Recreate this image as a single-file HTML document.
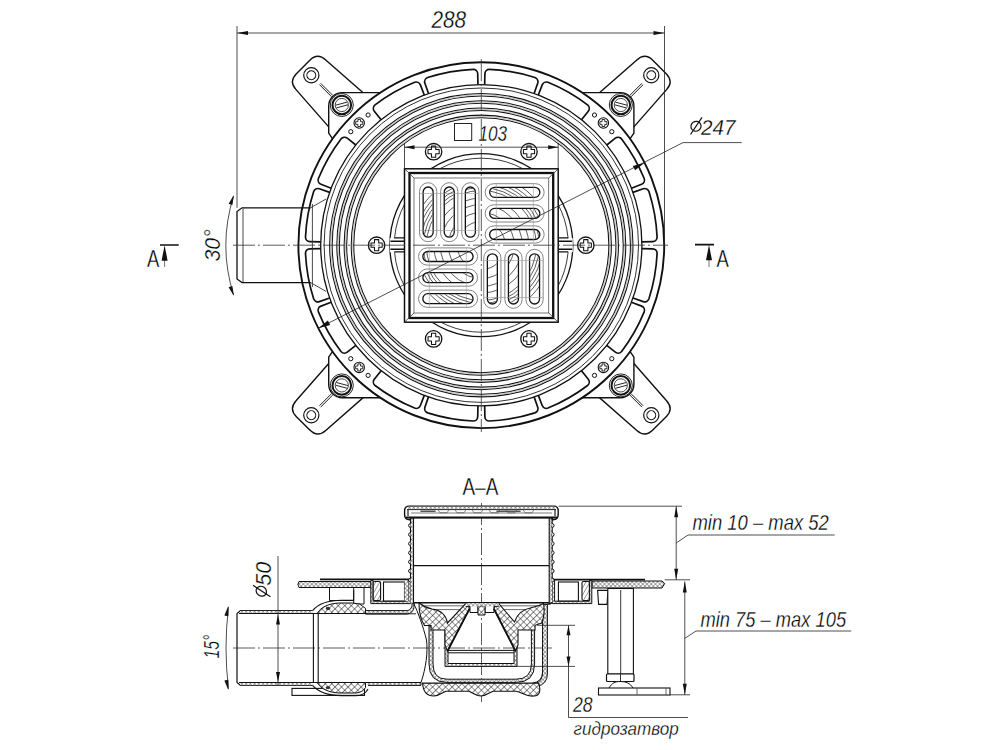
<!DOCTYPE html>
<html><head><meta charset="utf-8"><style>
html,body{margin:0;padding:0;background:#fff;width:1000px;height:750px;overflow:hidden}
svg{display:block}
</style></head><body>
<svg width="1000" height="750" viewBox="0 0 1000 750">
<rect width="1000" height="750" fill="#fff"/>
<defs>
<pattern id="xh" patternUnits="userSpaceOnUse" width="4.6" height="4.6" patternTransform="rotate(45)">
<rect width="4.6" height="4.6" fill="#fff"/>
<path d="M0 0H4.6M0 0V4.6" stroke="#222" stroke-width="1.1"/>
</pattern>
<pattern id="dh" patternUnits="userSpaceOnUse" width="3.5" height="3.5" patternTransform="rotate(-60)">
<rect width="3.5" height="3.5" fill="#fff"/>
<path d="M0 0H3.5" stroke="#333" stroke-width="0.9"/>
</pattern>
<pattern id="sh" patternUnits="userSpaceOnUse" width="3" height="3" patternTransform="rotate(45)">
<rect width="3" height="3" fill="#fff"/>
<path d="M0 0H3M0 0V3" stroke="#444" stroke-width="0.9"/>
</pattern>
<marker id="ar" viewBox="0 0 12 4" refX="12" refY="2" markerWidth="12" markerHeight="4" markerUnits="userSpaceOnUse" orient="auto-start-reverse">
<path d="M0 0L12 2L0 4z" fill="#111"/>
</marker>
</defs>
<path d="M300 207.8H242L237 211.5V279L242 282.6H300" fill="#fff" stroke="#111" stroke-width="1.3"/>
<path d="M243 208.5V282" stroke="#333" stroke-width="0.9"/>
<g transform="translate(481.3 245.2) scale(1 1)">
<g transform="rotate(-135)">
<path d="M172 -25.5L241 -21Q252 -20.4 252 -9.5V9.5Q252 20.4 241 21L172 25.5Z" fill="#fff" stroke="#111" stroke-width="1.4" stroke-linejoin="round"/>
<circle cx="240.4" cy="0" r="7.6" fill="none" stroke="#111" stroke-width="1.2"/>
<circle cx="240.4" cy="0" r="4.4" fill="none" stroke="#111" stroke-width="1.1"/>
<path d="M211 -0.9H228M211 0.9H228" stroke="#111" stroke-width="0.9"/>
</g>
<path d="M-98 -152.6H-139A13.5 13.5 0 0 0 -152.6 -139V-112L-148.5 -106L-104 -150Z" fill="#fff" stroke="#111" stroke-width="1.4" stroke-linejoin="round"/>
</g>
<g transform="translate(481.3 245.2) scale(-1 1)">
<g transform="rotate(-135)">
<path d="M172 -25.5L241 -21Q252 -20.4 252 -9.5V9.5Q252 20.4 241 21L172 25.5Z" fill="#fff" stroke="#111" stroke-width="1.4" stroke-linejoin="round"/>
<circle cx="240.4" cy="0" r="7.6" fill="none" stroke="#111" stroke-width="1.2"/>
<circle cx="240.4" cy="0" r="4.4" fill="none" stroke="#111" stroke-width="1.1"/>
<path d="M211 -0.9H228M211 0.9H228" stroke="#111" stroke-width="0.9"/>
</g>
<path d="M-98 -152.6H-139A13.5 13.5 0 0 0 -152.6 -139V-112L-148.5 -106L-104 -150Z" fill="#fff" stroke="#111" stroke-width="1.4" stroke-linejoin="round"/>
</g>
<g transform="translate(481.3 245.2) scale(1 -1)">
<g transform="rotate(-135)">
<path d="M172 -25.5L241 -21Q252 -20.4 252 -9.5V9.5Q252 20.4 241 21L172 25.5Z" fill="#fff" stroke="#111" stroke-width="1.4" stroke-linejoin="round"/>
<circle cx="240.4" cy="0" r="7.6" fill="none" stroke="#111" stroke-width="1.2"/>
<circle cx="240.4" cy="0" r="4.4" fill="none" stroke="#111" stroke-width="1.1"/>
<path d="M211 -0.9H228M211 0.9H228" stroke="#111" stroke-width="0.9"/>
</g>
<path d="M-98 -152.6H-139A13.5 13.5 0 0 0 -152.6 -139V-112L-148.5 -106L-104 -150Z" fill="#fff" stroke="#111" stroke-width="1.4" stroke-linejoin="round"/>
</g>
<g transform="translate(481.3 245.2) scale(-1 -1)">
<g transform="rotate(-135)">
<path d="M172 -25.5L241 -21Q252 -20.4 252 -9.5V9.5Q252 20.4 241 21L172 25.5Z" fill="#fff" stroke="#111" stroke-width="1.4" stroke-linejoin="round"/>
<circle cx="240.4" cy="0" r="7.6" fill="none" stroke="#111" stroke-width="1.2"/>
<circle cx="240.4" cy="0" r="4.4" fill="none" stroke="#111" stroke-width="1.1"/>
<path d="M211 -0.9H228M211 0.9H228" stroke="#111" stroke-width="0.9"/>
</g>
<path d="M-98 -152.6H-139A13.5 13.5 0 0 0 -152.6 -139V-112L-148.5 -106L-104 -150Z" fill="#fff" stroke="#111" stroke-width="1.4" stroke-linejoin="round"/>
</g>
<circle cx="481.3" cy="245.2" r="182.9" fill="#fff" stroke="#111" stroke-width="1.9"/>
<circle cx="341.80" cy="105.00" r="11.5" fill="none" stroke="#222" stroke-width="1.0"/>
<circle cx="341.80" cy="105.00" r="9.3" fill="#fff" stroke="#111" stroke-width="2.0"/>
<circle cx="341.80" cy="105.00" r="6.6" fill="none" stroke="#333" stroke-width="0.9"/>
<g transform="translate(341.80 105.00) rotate(-15)"><path d="M-6 -1.4H6M-6 1.4H6" stroke="#222" stroke-width="0.9"/></g>
<circle cx="368.10" cy="115.00" r="2.1" fill="none" stroke="#111" stroke-width="1"/>
<circle cx="350.80" cy="131.70" r="2.1" fill="none" stroke="#111" stroke-width="1"/>
<circle cx="359.20" cy="123.00" r="5.20" fill="#fff" stroke="#111" stroke-width="1.1"/>
<path d="M357.85 119.46H360.55V121.65H362.74V124.35H360.55V126.54H357.85V124.35H355.66V121.65H357.85Z" fill="none" stroke="#111" stroke-width="0.88" stroke-linejoin="round"/>
<circle cx="620.80" cy="105.00" r="11.5" fill="none" stroke="#222" stroke-width="1.0"/>
<circle cx="620.80" cy="105.00" r="9.3" fill="#fff" stroke="#111" stroke-width="2.0"/>
<circle cx="620.80" cy="105.00" r="6.6" fill="none" stroke="#333" stroke-width="0.9"/>
<g transform="translate(620.80 105.00) rotate(15)"><path d="M-6 -1.4H6M-6 1.4H6" stroke="#222" stroke-width="0.9"/></g>
<circle cx="594.50" cy="115.00" r="2.1" fill="none" stroke="#111" stroke-width="1"/>
<circle cx="611.80" cy="131.70" r="2.1" fill="none" stroke="#111" stroke-width="1"/>
<circle cx="603.40" cy="123.00" r="5.20" fill="#fff" stroke="#111" stroke-width="1.1"/>
<path d="M602.05 119.46H604.75V121.65H606.94V124.35H604.75V126.54H602.05V124.35H599.86V121.65H602.05Z" fill="none" stroke="#111" stroke-width="0.88" stroke-linejoin="round"/>
<circle cx="341.80" cy="385.40" r="11.5" fill="none" stroke="#222" stroke-width="1.0"/>
<circle cx="341.80" cy="385.40" r="9.3" fill="#fff" stroke="#111" stroke-width="2.0"/>
<circle cx="341.80" cy="385.40" r="6.6" fill="none" stroke="#333" stroke-width="0.9"/>
<g transform="translate(341.80 385.40) rotate(15)"><path d="M-6 -1.4H6M-6 1.4H6" stroke="#222" stroke-width="0.9"/></g>
<circle cx="368.10" cy="375.40" r="2.1" fill="none" stroke="#111" stroke-width="1"/>
<circle cx="350.80" cy="358.70" r="2.1" fill="none" stroke="#111" stroke-width="1"/>
<circle cx="359.20" cy="367.40" r="5.20" fill="#fff" stroke="#111" stroke-width="1.1"/>
<path d="M357.85 363.86H360.55V366.05H362.74V368.75H360.55V370.94H357.85V368.75H355.66V366.05H357.85Z" fill="none" stroke="#111" stroke-width="0.88" stroke-linejoin="round"/>
<circle cx="620.80" cy="385.40" r="11.5" fill="none" stroke="#222" stroke-width="1.0"/>
<circle cx="620.80" cy="385.40" r="9.3" fill="#fff" stroke="#111" stroke-width="2.0"/>
<circle cx="620.80" cy="385.40" r="6.6" fill="none" stroke="#333" stroke-width="0.9"/>
<g transform="translate(620.80 385.40) rotate(-15)"><path d="M-6 -1.4H6M-6 1.4H6" stroke="#222" stroke-width="0.9"/></g>
<circle cx="594.50" cy="375.40" r="2.1" fill="none" stroke="#111" stroke-width="1"/>
<circle cx="611.80" cy="358.70" r="2.1" fill="none" stroke="#111" stroke-width="1"/>
<circle cx="603.40" cy="367.40" r="5.20" fill="#fff" stroke="#111" stroke-width="1.1"/>
<path d="M602.05 363.86H604.75V366.05H606.94V368.75H604.75V370.94H602.05V368.75H599.86V366.05H602.05Z" fill="none" stroke="#111" stroke-width="0.88" stroke-linejoin="round"/>
<path d="M484.66 84.64L484.89 73.74A4.5 4.5 0 0 1 489.48 69.39A176.0 176.0 0 0 1 534.91 77.56A4.5 4.5 0 0 1 537.70 83.24L534.12 93.53" fill="#fff" stroke="#111" stroke-width="1.7" stroke-linejoin="round"/>
<path d="M534.12 396.87L537.70 407.16A4.5 4.5 0 0 1 534.91 412.84A176.0 176.0 0 0 1 489.48 421.01A4.5 4.5 0 0 1 484.89 416.66L484.66 405.76" fill="#fff" stroke="#111" stroke-width="1.7" stroke-linejoin="round"/>
<path d="M477.94 405.76L477.71 416.66A4.5 4.5 0 0 1 473.12 421.01A176.0 176.0 0 0 1 427.69 412.84A4.5 4.5 0 0 1 424.90 407.16L428.48 396.87" fill="#fff" stroke="#111" stroke-width="1.7" stroke-linejoin="round"/>
<path d="M428.48 93.53L424.90 83.24A4.5 4.5 0 0 1 427.69 77.56A176.0 176.0 0 0 1 473.12 69.39A4.5 4.5 0 0 1 477.71 73.74L477.94 84.64" fill="#fff" stroke="#111" stroke-width="1.7" stroke-linejoin="round"/>
<path d="M538.33 95.07L542.20 84.88A4.5 4.5 0 0 1 547.98 82.32A176.0 176.0 0 0 1 587.55 104.89A4.5 4.5 0 0 1 588.30 111.17L581.50 119.69" fill="#fff" stroke="#111" stroke-width="1.7" stroke-linejoin="round"/>
<path d="M581.50 370.71L588.30 379.23A4.5 4.5 0 0 1 587.55 385.51A176.0 176.0 0 0 1 547.98 408.08A4.5 4.5 0 0 1 542.20 405.52L538.33 395.33" fill="#fff" stroke="#111" stroke-width="1.7" stroke-linejoin="round"/>
<path d="M424.27 395.33L420.40 405.52A4.5 4.5 0 0 1 414.62 408.08A176.0 176.0 0 0 1 375.05 385.51A4.5 4.5 0 0 1 374.30 379.23L381.10 370.71" fill="#fff" stroke="#111" stroke-width="1.7" stroke-linejoin="round"/>
<path d="M381.10 119.69L374.30 111.17A4.5 4.5 0 0 1 375.05 104.89A176.0 176.0 0 0 1 414.62 82.32A4.5 4.5 0 0 1 420.40 84.88L424.27 95.07" fill="#fff" stroke="#111" stroke-width="1.7" stroke-linejoin="round"/>
<path d="M606.81 145.00L615.33 138.20A4.5 4.5 0 0 1 621.61 138.95A176.0 176.0 0 0 1 644.18 178.52A4.5 4.5 0 0 1 641.62 184.30L631.43 188.17" fill="#fff" stroke="#111" stroke-width="1.7" stroke-linejoin="round"/>
<path d="M631.43 302.23L641.62 306.10A4.5 4.5 0 0 1 644.18 311.88A176.0 176.0 0 0 1 621.61 351.45A4.5 4.5 0 0 1 615.33 352.20L606.81 345.40" fill="#fff" stroke="#111" stroke-width="1.7" stroke-linejoin="round"/>
<path d="M355.79 345.40L347.27 352.20A4.5 4.5 0 0 1 340.99 351.45A176.0 176.0 0 0 1 318.42 311.88A4.5 4.5 0 0 1 320.98 306.10L331.17 302.23" fill="#fff" stroke="#111" stroke-width="1.7" stroke-linejoin="round"/>
<path d="M331.17 188.17L320.98 184.30A4.5 4.5 0 0 1 318.42 178.52A176.0 176.0 0 0 1 340.99 138.95A4.5 4.5 0 0 1 347.27 138.20L355.79 145.00" fill="#fff" stroke="#111" stroke-width="1.7" stroke-linejoin="round"/>
<path d="M632.97 192.38L643.26 188.80A4.5 4.5 0 0 1 648.94 191.59A176.0 176.0 0 0 1 657.11 237.02A4.5 4.5 0 0 1 652.76 241.61L641.86 241.84" fill="#fff" stroke="#111" stroke-width="1.7" stroke-linejoin="round"/>
<path d="M641.86 248.56L652.76 248.79A4.5 4.5 0 0 1 657.11 253.38A176.0 176.0 0 0 1 648.94 298.81A4.5 4.5 0 0 1 643.26 301.60L632.97 298.02" fill="#fff" stroke="#111" stroke-width="1.7" stroke-linejoin="round"/>
<path d="M329.63 298.02L319.34 301.60A4.5 4.5 0 0 1 313.66 298.81A176.0 176.0 0 0 1 305.49 253.38A4.5 4.5 0 0 1 309.84 248.79L320.74 248.56" fill="#fff" stroke="#111" stroke-width="1.7" stroke-linejoin="round"/>
<path d="M320.74 241.84L309.84 241.61A4.5 4.5 0 0 1 305.49 237.02A176.0 176.0 0 0 1 313.66 191.59A4.5 4.5 0 0 1 319.34 188.80L329.63 192.38" fill="#fff" stroke="#111" stroke-width="1.7" stroke-linejoin="round"/>
<path d="M312.4 204V287" stroke="#333" stroke-width="0.9"/>
<path d="M310.6 207.8L326 199M310.6 282.6L326 291.4" stroke="#333" stroke-width="0.9"/>
<path d="M300 207.8H310.6M300 282.6H310.6" stroke="#111" stroke-width="1.2"/>
<circle cx="481.3" cy="245.2" r="160.6" fill="none" stroke="#111" stroke-width="1.3"/>
<circle cx="481.3" cy="245.2" r="157.2" fill="none" stroke="#333" stroke-width="1.0"/>
<circle cx="481.3" cy="245.2" r="150.4" fill="none" stroke="#111" stroke-width="3.6"/>
<circle cx="481.3" cy="245.2" r="150.4" fill="none" stroke="#fff" stroke-width="1.5"/>
<circle cx="481.3" cy="245.2" r="150.4" fill="none" stroke="#888" stroke-width="0.5"/>
<circle cx="481.3" cy="245.2" r="143.2" fill="none" stroke="#111" stroke-width="3.6"/>
<circle cx="481.3" cy="245.2" r="143.2" fill="none" stroke="#fff" stroke-width="1.5"/>
<circle cx="481.3" cy="245.2" r="143.2" fill="none" stroke="#888" stroke-width="0.5"/>
<circle cx="481.3" cy="245.2" r="135.9" fill="none" stroke="#111" stroke-width="3.6"/>
<circle cx="481.3" cy="245.2" r="135.9" fill="none" stroke="#fff" stroke-width="1.5"/>
<circle cx="481.3" cy="245.2" r="135.9" fill="none" stroke="#888" stroke-width="0.5"/>
<circle cx="481.3" cy="245.2" r="128.8" fill="none" stroke="#111" stroke-width="3.6"/>
<circle cx="481.3" cy="245.2" r="128.8" fill="none" stroke="#fff" stroke-width="1.5"/>
<circle cx="481.3" cy="245.2" r="128.8" fill="none" stroke="#888" stroke-width="0.5"/>
<circle cx="481.3" cy="245.2" r="91.5" fill="#fff" stroke="#111" stroke-width="1.3"/>
<circle cx="481.3" cy="245.2" r="87" fill="none" stroke="#222" stroke-width="0.9"/>
<rect x="558.30" y="238.2" width="14.50" height="14" fill="#fff" stroke="none"/>
<path d="M572.20 241.2H558.30M572.20 249.2H558.30" stroke="#111" stroke-width="1.4"/>
<path d="M568.30 237.79999999999998H558.30M568.30 251.79999999999998H558.30" stroke="#111" stroke-width="1.3"/>
<rect x="389.80" y="238.2" width="14.50" height="14" fill="#fff" stroke="none"/>
<path d="M390.40 241.2H404.30M390.40 249.2H404.30" stroke="#111" stroke-width="1.4"/>
<path d="M394.30 237.79999999999998H404.30M394.30 251.79999999999998H404.30" stroke="#111" stroke-width="1.3"/>
<path d="M433.3 167.20H529.3" stroke="#111" stroke-width="0" />
<path d="M433.3 323.20H529.3" stroke="#111" stroke-width="0" />
<circle cx="433.60" cy="151.70" r="8.20" fill="#fff" stroke="#111" stroke-width="1.3"/>
<path d="M431.47 146.12H435.73V149.57H439.18V153.83H435.73V157.28H431.47V153.83H428.02V149.57H431.47Z" fill="none" stroke="#111" stroke-width="1.04" stroke-linejoin="round"/>
<circle cx="529.00" cy="151.70" r="8.20" fill="#fff" stroke="#111" stroke-width="1.3"/>
<path d="M526.87 146.12H531.13V149.57H534.58V153.83H531.13V157.28H526.87V153.83H523.42V149.57H526.87Z" fill="none" stroke="#111" stroke-width="1.04" stroke-linejoin="round"/>
<circle cx="433.60" cy="338.90" r="8.20" fill="#fff" stroke="#111" stroke-width="1.3"/>
<path d="M431.47 333.32H435.73V336.77H439.18V341.03H435.73V344.48H431.47V341.03H428.02V336.77H431.47Z" fill="none" stroke="#111" stroke-width="1.04" stroke-linejoin="round"/>
<circle cx="529.00" cy="338.90" r="8.20" fill="#fff" stroke="#111" stroke-width="1.3"/>
<path d="M526.87 333.32H531.13V336.77H534.58V341.03H531.13V344.48H526.87V341.03H523.42V336.77H526.87Z" fill="none" stroke="#111" stroke-width="1.04" stroke-linejoin="round"/>
<circle cx="376.60" cy="245.20" r="8.20" fill="#fff" stroke="#111" stroke-width="1.3"/>
<path d="M374.47 239.62H378.73V243.07H382.18V247.33H378.73V250.78H374.47V247.33H371.02V243.07H374.47Z" fill="none" stroke="#111" stroke-width="1.04" stroke-linejoin="round"/>
<circle cx="585.80" cy="245.20" r="8.20" fill="#fff" stroke="#111" stroke-width="1.3"/>
<path d="M583.67 239.62H587.93V243.07H591.38V247.33H587.93V250.78H583.67V247.33H580.22V243.07H583.67Z" fill="none" stroke="#111" stroke-width="1.04" stroke-linejoin="round"/>
<rect x="404.5" y="168.8" width="153.7" height="153.4" fill="#fff" stroke="#111" stroke-width="1.5"/>
<rect x="409.5" y="173.0" width="143.7" height="145.0" fill="none" stroke="#111" stroke-width="2.3"/>
<rect x="414.0" y="178.0" width="134.7" height="135.0" fill="none" stroke="#555" stroke-width="0.8"/>
<line x1="404.50" y1="168.80" x2="414.00" y2="178.00" stroke="#333" stroke-width="0.8" />
<line x1="558.20" y1="168.80" x2="548.70" y2="178.00" stroke="#333" stroke-width="0.8" />
<line x1="404.50" y1="322.20" x2="414.00" y2="313.00" stroke="#333" stroke-width="0.8" />
<line x1="558.20" y1="322.20" x2="548.70" y2="313.00" stroke="#333" stroke-width="0.8" />
<g transform="translate(481.35 245.50)">
<g transform="rotate(0)">
<rect x="-61.8" y="-62.8" width="17.2" height="59" rx="8.6" fill="none" stroke="#666" stroke-width="0.8"/>
<rect x="-58.2" y="-58.5" width="10" height="50.2" rx="5" fill="#fff" stroke="#111" stroke-width="1.3"/>
<rect x="-40.7" y="-62.8" width="17.2" height="59" rx="8.6" fill="none" stroke="#666" stroke-width="0.8"/>
<rect x="-37.1" y="-58.5" width="10" height="50.2" rx="5" fill="#fff" stroke="#111" stroke-width="1.3"/>
<rect x="-19.6" y="-62.8" width="17.2" height="59" rx="8.6" fill="none" stroke="#666" stroke-width="0.8"/>
<rect x="-16.0" y="-58.5" width="10" height="50.2" rx="5" fill="#fff" stroke="#111" stroke-width="1.3"/>
<path d="M-62 -52H-3M-62 -15H-3" stroke="#999" stroke-width="0.6"/>
</g>
<g transform="rotate(90)">
<rect x="-61.8" y="-62.8" width="17.2" height="59" rx="8.6" fill="none" stroke="#666" stroke-width="0.8"/>
<rect x="-58.2" y="-58.5" width="10" height="50.2" rx="5" fill="#fff" stroke="#111" stroke-width="1.3"/>
<rect x="-40.7" y="-62.8" width="17.2" height="59" rx="8.6" fill="none" stroke="#666" stroke-width="0.8"/>
<rect x="-37.1" y="-58.5" width="10" height="50.2" rx="5" fill="#fff" stroke="#111" stroke-width="1.3"/>
<rect x="-19.6" y="-62.8" width="17.2" height="59" rx="8.6" fill="none" stroke="#666" stroke-width="0.8"/>
<rect x="-16.0" y="-58.5" width="10" height="50.2" rx="5" fill="#fff" stroke="#111" stroke-width="1.3"/>
<path d="M-62 -52H-3M-62 -15H-3" stroke="#999" stroke-width="0.6"/>
</g>
<g transform="rotate(180)">
<rect x="-61.8" y="-62.8" width="17.2" height="59" rx="8.6" fill="none" stroke="#666" stroke-width="0.8"/>
<rect x="-58.2" y="-58.5" width="10" height="50.2" rx="5" fill="#fff" stroke="#111" stroke-width="1.3"/>
<rect x="-40.7" y="-62.8" width="17.2" height="59" rx="8.6" fill="none" stroke="#666" stroke-width="0.8"/>
<rect x="-37.1" y="-58.5" width="10" height="50.2" rx="5" fill="#fff" stroke="#111" stroke-width="1.3"/>
<rect x="-19.6" y="-62.8" width="17.2" height="59" rx="8.6" fill="none" stroke="#666" stroke-width="0.8"/>
<rect x="-16.0" y="-58.5" width="10" height="50.2" rx="5" fill="#fff" stroke="#111" stroke-width="1.3"/>
<path d="M-62 -52H-3M-62 -15H-3" stroke="#999" stroke-width="0.6"/>
</g>
<g transform="rotate(270)">
<rect x="-61.8" y="-62.8" width="17.2" height="59" rx="8.6" fill="none" stroke="#666" stroke-width="0.8"/>
<rect x="-58.2" y="-58.5" width="10" height="50.2" rx="5" fill="#fff" stroke="#111" stroke-width="1.3"/>
<rect x="-40.7" y="-62.8" width="17.2" height="59" rx="8.6" fill="none" stroke="#666" stroke-width="0.8"/>
<rect x="-37.1" y="-58.5" width="10" height="50.2" rx="5" fill="#fff" stroke="#111" stroke-width="1.3"/>
<rect x="-19.6" y="-62.8" width="17.2" height="59" rx="8.6" fill="none" stroke="#666" stroke-width="0.8"/>
<rect x="-16.0" y="-58.5" width="10" height="50.2" rx="5" fill="#fff" stroke="#111" stroke-width="1.3"/>
<path d="M-62 -52H-3M-62 -15H-3" stroke="#999" stroke-width="0.6"/>
</g>
</g>
<clipPath id="slots"><rect transform="rotate(0)" x="-57.6" y="-57.9" width="8.8" height="49" rx="4.4"/><rect transform="rotate(0)" x="-36.5" y="-57.9" width="8.8" height="49" rx="4.4"/><rect transform="rotate(0)" x="-15.4" y="-57.9" width="8.8" height="49" rx="4.4"/><rect transform="rotate(90)" x="-57.6" y="-57.9" width="8.8" height="49" rx="4.4"/><rect transform="rotate(90)" x="-36.5" y="-57.9" width="8.8" height="49" rx="4.4"/><rect transform="rotate(90)" x="-15.4" y="-57.9" width="8.8" height="49" rx="4.4"/><rect transform="rotate(180)" x="-57.6" y="-57.9" width="8.8" height="49" rx="4.4"/><rect transform="rotate(180)" x="-36.5" y="-57.9" width="8.8" height="49" rx="4.4"/><rect transform="rotate(180)" x="-15.4" y="-57.9" width="8.8" height="49" rx="4.4"/><rect transform="rotate(270)" x="-57.6" y="-57.9" width="8.8" height="49" rx="4.4"/><rect transform="rotate(270)" x="-36.5" y="-57.9" width="8.8" height="49" rx="4.4"/><rect transform="rotate(270)" x="-15.4" y="-57.9" width="8.8" height="49" rx="4.4"/></clipPath>
<g transform="translate(481.35 245.50)" clip-path="url(#slots)">
<circle r="24" fill="none" stroke="#333" stroke-width="0.8"/>
<circle r="33" fill="none" stroke="#333" stroke-width="0.8"/>
<circle r="41" fill="none" stroke="#333" stroke-width="0.8"/>
<circle r="47.5" fill="none" stroke="#333" stroke-width="0.8"/>
<circle r="55" fill="none" stroke="#333" stroke-width="0.8"/>
<circle r="58" fill="none" stroke="#333" stroke-width="0.8"/>
<circle r="61" fill="none" stroke="#333" stroke-width="0.8"/>
<circle r="64" fill="none" stroke="#333" stroke-width="0.8"/>
<circle r="67" fill="none" stroke="#333" stroke-width="0.8"/>
<circle r="71" fill="none" stroke="#333" stroke-width="0.8"/>
</g>
<line x1="233.00" y1="245.20" x2="668.00" y2="245.20" stroke="#333" stroke-width="0.8" stroke-dasharray="22 3 2 3"/>
<line x1="481.30" y1="59.00" x2="481.30" y2="432.00" stroke="#333" stroke-width="0.8" stroke-dasharray="22 3 2 3"/>
<line x1="318.30" y1="328.30" x2="683.00" y2="142.60" stroke="#222" stroke-width="0.8" />
<line x1="683.00" y1="142.60" x2="741.70" y2="142.60" stroke="#222" stroke-width="0.8" />
<path d="M318.30 328.30L327.86 320.62L330.13 325.08Z" fill="#111"/>
<path d="M644.70 162.70L635.11 170.34L632.86 165.88Z" fill="#111"/>
<text transform="translate(701 134.8) rotate(0) scale(0.96 1)" style="font-family:'Liberation Sans',sans-serif;font-style:italic;font-size:21.5px;fill:#000;stroke:#fff;stroke-width:0.3px;">247</text>
<ellipse cx="696" cy="126.3" rx="5.1" ry="4.9" transform="rotate(-35 696 126.3)" fill="none" stroke="#111" stroke-width="1.2"/>
<path d="M690.5 134.5L702 117.3" stroke="#111" stroke-width="1.2"/>
<line x1="237.00" y1="26.00" x2="237.00" y2="207.80" stroke="#222" stroke-width="0.8" />
<line x1="664.50" y1="26.00" x2="664.50" y2="245.50" stroke="#222" stroke-width="0.8" />
<line x1="237.00" y1="33.00" x2="664.50" y2="33.00" stroke="#222" stroke-width="0.8" />
<path d="M237.00 33.00L248.00 31.00L248.00 35.00Z" fill="#111"/>
<path d="M664.50 33.00L653.50 35.00L653.50 31.00Z" fill="#111"/>
<text transform="translate(431.5 27.6) rotate(0) scale(0.887 1)" style="font-family:'Liberation Sans',sans-serif;font-style:italic;font-size:23.4px;fill:#000;stroke:#fff;stroke-width:0.3px;">288</text>
<line x1="404.50" y1="143.00" x2="404.50" y2="168.00" stroke="#222" stroke-width="0.8" />
<line x1="558.20" y1="143.00" x2="558.20" y2="168.00" stroke="#222" stroke-width="0.8" />
<line x1="404.50" y1="147.20" x2="558.20" y2="147.20" stroke="#222" stroke-width="0.8" />
<path d="M404.50 147.20L414.50 145.20L414.50 149.20Z" fill="#111"/>
<path d="M558.20 147.20L548.20 149.20L548.20 145.20Z" fill="#111"/>
<rect x="454.5" y="123.5" width="17.2" height="17" fill="none" stroke="#222" stroke-width="1"/>
<text transform="translate(478.5 140.6) rotate(0) scale(0.78 1)" style="font-family:'Liberation Sans',sans-serif;font-style:italic;font-size:22px;fill:#000;stroke:#fff;stroke-width:0.3px;">103</text>
<path d="M160 245H178.7M695 244.7H714" stroke="#111" stroke-width="1.7"/>
<path d="M164.6 258V267M709 258V267" stroke="#666" stroke-width="0.9"/>
<path d="M164.60 245.20L167.60 260.70L161.60 260.70Z" fill="#111"/>
<path d="M709.00 244.80L712.00 260.30L706.00 260.30Z" fill="#111"/>
<text transform="translate(147 267) rotate(0) scale(0.75 1)" style="font-family:'Liberation Sans',sans-serif;font-size:24.6px;fill:#000;stroke:#fff;stroke-width:0.3px;">A</text>
<text transform="translate(716.5 266.5) rotate(0) scale(0.75 1)" style="font-family:'Liberation Sans',sans-serif;font-size:24.6px;fill:#000;stroke:#fff;stroke-width:0.3px;">A</text>
<path d="M233.6 196Q218 245.5 233.6 295" fill="none" stroke="#222" stroke-width="0.8"/>
<path d="M233.80 195.00L232.38 205.10L228.61 203.78Z" fill="#111"/>
<path d="M233.80 296.00L228.61 287.22L232.38 285.90Z" fill="#111"/>
<text transform="translate(219.5 261.5) rotate(-90) scale(0.97 1)" style="font-family:'Liberation Sans',sans-serif;font-style:italic;font-size:22px;fill:#000;stroke:#fff;stroke-width:0.3px;">30°</text>
<line x1="233.00" y1="648.00" x2="552.00" y2="648.00" stroke="#333" stroke-width="0.8" stroke-dasharray="22 3 2 3"/>
<line x1="481.50" y1="503.00" x2="481.50" y2="702.00" stroke="#333" stroke-width="0.8" stroke-dasharray="22 3 2 3"/>
<rect x="292" y="688.4" width="72.5" height="7" fill="#fff" stroke="#111" stroke-width="1.1"/>
<path d="M312.6 610.6H240.5L237 613.5V682.5L240.5 685.4H312.6" fill="none" stroke="#111" stroke-width="1.2"/>
<rect x="240" y="610.9" width="72.6" height="2.6" fill="url(#sh)"/>
<rect x="240" y="682.6" width="72.6" height="2.6" fill="url(#sh)"/>
<path d="M239 613.5H318M239 682.5H318" fill="none" stroke="#111" stroke-width="1.0"/>
<path d="M329.5 586V600.5H353.7V586M353.7 590V604H364V588" fill="#fff" stroke="#111" stroke-width="1.0"/>
<path d="M312.6 610.6C318 604 328 600.3 342 600.3H353.7" fill="none" stroke="#111" stroke-width="1.1"/>
<path d="M312.6 685.4C318 692 328 695.6 342 695.6H356C362 695.6 366 693 368 689" fill="none" stroke="#111" stroke-width="1.1"/>
<path d="M317 613.5C321 607 329 603.2 340 603H352.5L359.6 604L365.5 608.4V613.5Z" fill="url(#xh)" stroke="#111" stroke-width="1.0"/>
<path d="M317 682.5C321 689 329 692.8 340 693H356C361 692.8 364 690 365.5 687.5V682.5Z" fill="url(#xh)" stroke="#111" stroke-width="1.0"/>
<ellipse cx="328" cy="608.4" rx="2.2" ry="1.6" fill="#333"/>
<ellipse cx="328" cy="687.6" rx="2.2" ry="1.6" fill="#333"/>
<path d="M365.5 610.6H406C410 610.6 412 608 412 604V602.8H414V606C414 611 411 614 406 614H365.5Z" fill="url(#sh)" stroke="#111" stroke-width="1.0"/>
<path d="M365.5 682.5H421V685.4H368" fill="url(#sh)" stroke="#111" stroke-width="1.0"/>
<path d="M313.4 613.5V682.5M318.2 613.5V682.5" stroke="#111" stroke-width="1.1"/>
<path d="M365.5 613.8H416" stroke="#111" stroke-width="0.9"/>
<path d="M299 581.5H371V587.5H299Q296.8 584.5 299 581.5Z" fill="url(#sh)" stroke="#111" stroke-width="1.0"/>
<path d="M320 579.4H410" stroke="#111" stroke-width="1.7"/>
<path d="M370.8 580.5V603.6H410.4V580.5H408V601.2H373.2V580.5Z" fill="url(#sh)" stroke="#111" stroke-width="1.0"/>
<rect x="373.2" y="581.5" width="7.4" height="19" rx="1.5" fill="url(#dh)" stroke="#111" stroke-width="1.1"/>
<rect x="383.5" y="582" width="21" height="19" fill="#fff" stroke="#111" stroke-width="1.1"/>
<rect x="404.5" y="582" width="3.5" height="19.2" fill="url(#sh)"/>
<path d="M592 581H662L664.7 583.5L662 588H592Z" fill="url(#sh)" stroke="#111" stroke-width="1.0"/>
<path d="M552 579.6H645" stroke="#111" stroke-width="1.7"/>
<path d="M591.8 580.5V603.6H552.2V580.5H554.6V601.2H589.4V580.5Z" fill="url(#sh)" stroke="#111" stroke-width="1.0"/>
<rect x="582" y="581.5" width="7.4" height="19" rx="1.5" fill="url(#dh)" stroke="#111" stroke-width="1.1"/>
<rect x="558.4" y="582" width="20" height="19" fill="#fff" stroke="#111" stroke-width="1.1"/>
<path d="M597.6 590.4H608L607 604.4H598.6Z" fill="#fff" stroke="#111" stroke-width="1.1"/>
<rect x="607.8" y="588.5" width="25.6" height="85.5" fill="#fff" stroke="#111" stroke-width="1.1"/>
<path d="M620.7 590V674" stroke="#222" stroke-width="0.9"/>
<rect x="606.5" y="674" width="27.5" height="7.5" rx="1" fill="#fff" stroke="#111" stroke-width="1.2"/>
<path d="M620.5 674V681.5" stroke="#222" stroke-width="0.9"/>
<path d="M609 688C612 683 615 681.5 620 681.5C626 681.5 630 683 633 688" fill="#fff" stroke="#111" stroke-width="1"/>
<rect x="598.5" y="688" width="71.5" height="7" fill="#fff" stroke="#111" stroke-width="1.1"/>
<path d="M637 688V695M666 688V695" stroke="#444" stroke-width="0.8"/>
<rect x="410.5" y="518" width="3" height="85" fill="url(#sh)"/>
<rect x="549.2" y="518" width="3" height="85" fill="url(#sh)"/>
<path d="M410.5 519V581M413.5 517.6V603M549.2 517.6V603M552.2 519V581" stroke="#111" stroke-width="1.1"/>
<path d="M410.5 523.6A1.9 1.9 0 0 0 410.5 527.4" fill="#fff" stroke="#111" stroke-width="1.0"/>
<path d="M552.2 523.6A1.9 1.9 0 0 1 552.2 527.4" fill="#fff" stroke="#111" stroke-width="1.0"/>
<path d="M410.5 532.7A1.9 1.9 0 0 0 410.5 536.5" fill="#fff" stroke="#111" stroke-width="1.0"/>
<path d="M552.2 532.7A1.9 1.9 0 0 1 552.2 536.5" fill="#fff" stroke="#111" stroke-width="1.0"/>
<path d="M410.5 541.8A1.9 1.9 0 0 0 410.5 545.6" fill="#fff" stroke="#111" stroke-width="1.0"/>
<path d="M552.2 541.8A1.9 1.9 0 0 1 552.2 545.6" fill="#fff" stroke="#111" stroke-width="1.0"/>
<path d="M410.5 550.9A1.9 1.9 0 0 0 410.5 554.7" fill="#fff" stroke="#111" stroke-width="1.0"/>
<path d="M552.2 550.9A1.9 1.9 0 0 1 552.2 554.7" fill="#fff" stroke="#111" stroke-width="1.0"/>
<path d="M410.5 560.0A1.9 1.9 0 0 0 410.5 563.8" fill="#fff" stroke="#111" stroke-width="1.0"/>
<path d="M552.2 560.0A1.9 1.9 0 0 1 552.2 563.8" fill="#fff" stroke="#111" stroke-width="1.0"/>
<path d="M410.5 569.1A1.9 1.9 0 0 0 410.5 572.9" fill="#fff" stroke="#111" stroke-width="1.0"/>
<path d="M552.2 569.1A1.9 1.9 0 0 1 552.2 572.9" fill="#fff" stroke="#111" stroke-width="1.0"/>
<path d="M410.5 578.2A1.9 1.9 0 0 0 410.5 582.0" fill="#fff" stroke="#111" stroke-width="1.0"/>
<path d="M552.2 578.2A1.9 1.9 0 0 1 552.2 582.0" fill="#fff" stroke="#111" stroke-width="1.0"/>
<path d="M413.5 565.6H549.2" stroke="#111" stroke-width="1.3"/>
<path d="M413.5 602.8H549.2" stroke="#111" stroke-width="1.4"/>
<path d="M552.2 602C552 604 550 604.4 546 604.4" stroke="#111" stroke-width="1"/>
<path d="M409 506.1H554Q558.2 506.1 558.2 511V514.5Q558.2 519.7 553 519.7H552.2V517.6H410.5V519.7H409.6Q404.6 519.7 404.6 514.5V511Q404.6 506.1 409 506.1Z" fill="#fff" stroke="#111" stroke-width="1.4"/>
<rect x="407.5" y="506.8" width="148" height="2.8" fill="url(#sh)"/>
<path d="M407 509.6H556" stroke="#111" stroke-width="0.9"/>
<path d="M411 513H552" stroke="#444" stroke-width="0.7"/>
<path d="M406 517.6H557" stroke="#111" stroke-width="2.0"/>
<path d="M421 511.2H435M497 511.2H520" stroke="#555" stroke-width="1.6" stroke-linecap="round"/>
<path d="M438 509.6L440 512.8H447L449 509.6" fill="none" stroke="#555" stroke-width="0.7"/>
<path d="M455 509.6L457 512.8H464L466 509.6" fill="none" stroke="#555" stroke-width="0.7"/>
<path d="M472 509.6L474 512.8H481L483 509.6" fill="none" stroke="#555" stroke-width="0.7"/>
<path d="M489 509.6L491 512.8H498L500 509.6" fill="none" stroke="#555" stroke-width="0.7"/>
<path d="M506 509.6L508 512.8H515L517 509.6" fill="none" stroke="#555" stroke-width="0.7"/>
<path d="M523 509.6L525 512.8H532L534 509.6" fill="none" stroke="#555" stroke-width="0.7"/>
<path d="M408 510V516M555 510V516" stroke="#222" stroke-width="1.2"/>
<path d="M424 605.8H466M497 605.8H540M428 609.6H464M499 609.6H536" stroke="#444" stroke-width="0.8"/>
<path d="M413.5 603C418 612 423 626 426.5 640C428 652 426 668 421 682.5" fill="none" stroke="#111" stroke-width="1"/>
<path d="M542.6 604V672Q542.6 682 532 683.2H422" fill="none" stroke="#111" stroke-width="1"/>
<path d="M542.6 604V672Q542.6 682 535 683.5L537 686.5Q547.4 684 547.4 674V604.4H542.6Z" fill="url(#sh)" stroke="#111" stroke-width="1"/>
<path d="M422.6 683.2H538.6C541 690 540 696 534 696C526 697 522 692 516 691.2H493C488 693 486 696 481 696C476 696 473 693 469 691.2H446C441 693 439 696 434 696C426 696 423 690 422.6 683.2Z" fill="url(#xh)" stroke="#111" stroke-width="1.1"/>
<path d="M429 626V664Q429 682.4 447 682.4H516Q534.6 682.4 534.6 664V626H531.4V664Q531.4 679.2 516 679.2H447Q433 679.2 433 664V626Z" fill="url(#sh)" stroke="#111" stroke-width="1"/>
<path d="M445 630V666.4H517V630H514V663.5H448V630Z" fill="url(#sh)" stroke="#111" stroke-width="1"/>
<path d="M448 650.4H514M448 652.8H514" stroke="#111" stroke-width="1"/>
<path d="M419 603.5C419 612 421 620 424.5 625.5H431V630H445V645L447.5 651L469.4 609L468 603.5H465.7L447.5 623C446 615 440 610 432 609C427 608 423 606 420 603.5Z" fill="url(#xh)" stroke="#111" stroke-width="1.1"/>
<path d="M543.5 603.5C545 612 543 620 541.6 623L535 625.3V630H518V645L515.5 651L494 609L495 603.5H498.7L514.5 622C517 614 524 609 532 607.5C537 606.5 541 605 543.5 603.5Z" fill="url(#xh)" stroke="#111" stroke-width="1.1"/>
<path d="M469.4 609L447.5 651M494 609L515.5 651" stroke="#111" stroke-width="1.8"/>
<rect x="465.7" y="603.2" width="33" height="3.2" fill="url(#sh)"/>
<path d="M465.7 606.4H470V612.5H478V606.4H485V612.5H494V606.4H498.7" fill="none" stroke="#111" stroke-width="1"/>
<path d="M478 606.4V615H485V606.4" fill="url(#xh)" stroke="#111" stroke-width="1"/>
<line x1="537.00" y1="625.30" x2="575.00" y2="625.30" stroke="#222" stroke-width="0.8" />
<line x1="517.00" y1="666.40" x2="575.00" y2="666.40" stroke="#222" stroke-width="0.8" />
<line x1="568.50" y1="625.30" x2="568.50" y2="717.50" stroke="#222" stroke-width="0.8" />
<path d="M568.50 625.30L570.50 635.30L566.50 635.30Z" fill="#111"/>
<path d="M568.50 666.40L566.50 656.40L570.50 656.40Z" fill="#111"/>
<line x1="568.50" y1="717.50" x2="688.00" y2="717.50" stroke="#222" stroke-width="0.8" />
<text transform="translate(573 711.6) rotate(0) scale(0.8 1)" style="font-family:'Liberation Sans',sans-serif;font-style:italic;font-size:22px;fill:#000;stroke:#fff;stroke-width:0.3px;">28</text>
<text transform="translate(573.5 735.1) rotate(0) scale(0.9 1)" style="font-family:'Liberation Sans',sans-serif;font-style:italic;font-size:19px;fill:#000;stroke:#fff;stroke-width:0.3px;">гидрозатвор</text>
<line x1="278.00" y1="556.00" x2="278.00" y2="685.60" stroke="#222" stroke-width="0.8" />
<path d="M278.00 614.40L280.00 624.40L276.00 624.40Z" fill="#111"/>
<path d="M278.00 682.00L276.00 672.00L280.00 672.00Z" fill="#111"/>
<text transform="translate(271 585.8) rotate(-90) scale(0.98 1)" style="font-family:'Liberation Sans',sans-serif;font-style:italic;font-size:22px;fill:#000;stroke:#fff;stroke-width:0.3px;">50</text>
<ellipse cx="261.3" cy="591.2" rx="5.4" ry="4.7" transform="rotate(35 261.3 591.2)" fill="none" stroke="#111" stroke-width="1.2"/>
<path d="M253 585.3L270.4 596.7" stroke="#111" stroke-width="1.2"/>
<path d="M228.5 607Q223.5 648 228.5 689" fill="none" stroke="#222" stroke-width="0.8"/>
<path d="M228.30 606.00L228.30 616.20L224.38 615.41Z" fill="#111"/>
<path d="M228.30 690.00L224.38 680.59L228.30 679.80Z" fill="#111"/>
<text transform="translate(218.5 658.5) rotate(-90) scale(0.72 1)" style="font-family:'Liberation Sans',sans-serif;font-style:italic;font-size:22px;fill:#000;stroke:#fff;stroke-width:0.3px;">15°</text>
<text transform="translate(462.5 494.5) rotate(0) scale(0.77 1)" style="font-family:'Liberation Sans',sans-serif;font-size:24.6px;fill:#000;stroke:#fff;stroke-width:0.3px;">A–A</text>
<line x1="558.60" y1="506.20" x2="682.00" y2="506.20" stroke="#222" stroke-width="0.8" />
<line x1="664.70" y1="579.80" x2="690.00" y2="579.80" stroke="#222" stroke-width="0.8" />
<line x1="669.80" y1="694.80" x2="690.00" y2="694.80" stroke="#222" stroke-width="0.8" />
<line x1="676.20" y1="506.20" x2="676.20" y2="579.80" stroke="#222" stroke-width="0.8" />
<path d="M676.20 506.20L678.20 517.20L674.20 517.20Z" fill="#111"/>
<path d="M676.20 579.80L674.20 568.80L678.20 568.80Z" fill="#111"/>
<line x1="684.80" y1="581.50" x2="684.80" y2="694.80" stroke="#222" stroke-width="0.8" />
<path d="M684.80 581.50L686.80 592.50L682.80 592.50Z" fill="#111"/>
<path d="M684.80 694.80L682.80 683.80L686.80 683.80Z" fill="#111"/>
<path d="M676.2 543L688 535H834.6M684.8 638.4L696 631H851.2" fill="none" stroke="#222" stroke-width="0.8"/>
<text transform="translate(692.5 529.6) rotate(0) scale(0.866 1)" style="font-family:'Liberation Sans',sans-serif;font-style:italic;font-size:21.3px;fill:#000;stroke:#fff;stroke-width:0.3px;">min 10 – max 52</text>
<text transform="translate(700.5 626.6) rotate(0) scale(0.86 1)" style="font-family:'Liberation Sans',sans-serif;font-style:italic;font-size:21.3px;fill:#000;stroke:#fff;stroke-width:0.3px;">min 75 – max 105</text>
</svg></body></html>
